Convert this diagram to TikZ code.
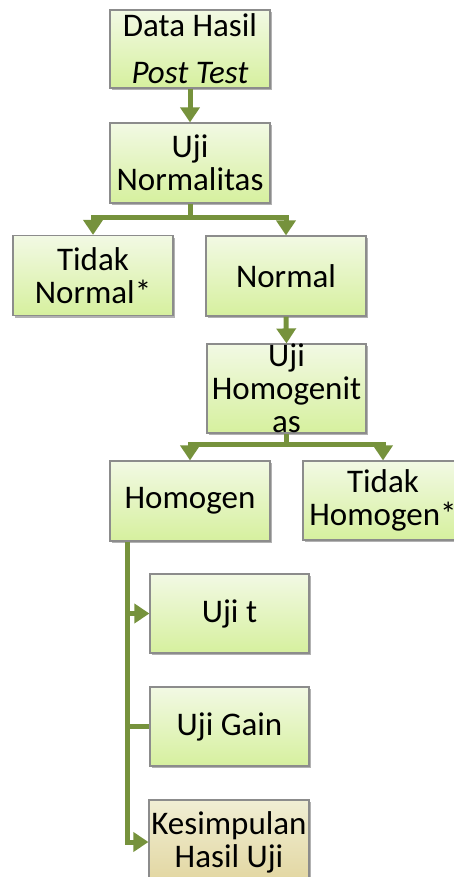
\documentclass[tikz,border=0pt]{standalone}
\usepackage{fontspec}
\setmainfont{Carlito}
\usetikzlibrary{arrows.meta,shadows}
\definecolor{arr}{RGB}{118,146,60}
\definecolor{bord}{RGB}{140,140,140}
\definecolor{gtop}{RGB}{242,249,228}
\definecolor{gbot}{RGB}{214,240,158}
\definecolor{ttop}{RGB}{240,238,212}
\definecolor{tbot}{RGB}{226,214,160}
\begin{document}
\begin{tikzpicture}[x=0.5pt,y=-0.5pt,
  box/.style={draw=bord, line width=0.6pt, top color=gtop, bottom color=gbot,
    minimum width=80pt, minimum height=40pt, inner sep=0pt, align=center,
    font=\fontsize{16.5}{16.5}\selectfont,
    drop shadow={shadow xshift=1.2pt, shadow yshift=-1.2pt, opacity=0.3, fill=black}},
  con/.style={draw=arr, line width=2.5pt},
  arw/.style={con, -{Triangle[width=9.5pt,length=7.5pt]}}]
\useasboundingbox (0,0) rectangle (454,877);

\node[box, minimum height=39pt] (b1) at (190,49) {Data Hasil\\[7pt]\textit{Post Test}};
\node[box] (b2) at (190,163) {Uji\\Normalitas};
\node[box] (tn) at (93,275.5) {Tidak\\Normal*};
\node[box] (nm) at (286,276) {Normal};
\node[box, minimum width=79.5pt] (uh) at (286.5,388.5) {Uji\\Homogenit\\as};
\node[box] (hm) at (190,501) {Homogen};
\node[box, minimum height=39.5pt] (th) at (383,500.5) {Tidak\\Homogen*};
\node[box, minimum width=79.5pt, minimum height=39.5pt] (ut) at (229.5,613.5) {Uji t};
\node[box, minimum width=79.5pt, minimum height=39.5pt] (ug) at (229.5,726.5) {Uji Gain};
\node[box, top color=ttop, bottom color=tbot, minimum height=42pt] (ks) at (229,842) {Kesimpulan\\Hasil Uji};

\draw[arw] (b1.south) -- (b2.north);

\coordinate (j1) at (190,218);
\draw[arw] (b2.south) -- (j1) -| (tn.north);
\draw[arw] (j1) -| (nm.north);

\draw[arw] (nm.south) -- (uh.north);

\coordinate (j2) at (286.5,444);
\draw[arw] (uh.south) -- (j2) -| (hm.north);
\draw[arw] (j2) -| (th.north);

\coordinate (v1) at ([xshift=9pt]hm.south west);
\draw[arw] (v1) |- (ks.west);
\draw[arw] (v1 |- ut.west) -- (ut.west);
\draw[con] (v1 |- ug.west) -- (ug.west);
\end{tikzpicture}
\end{document}
